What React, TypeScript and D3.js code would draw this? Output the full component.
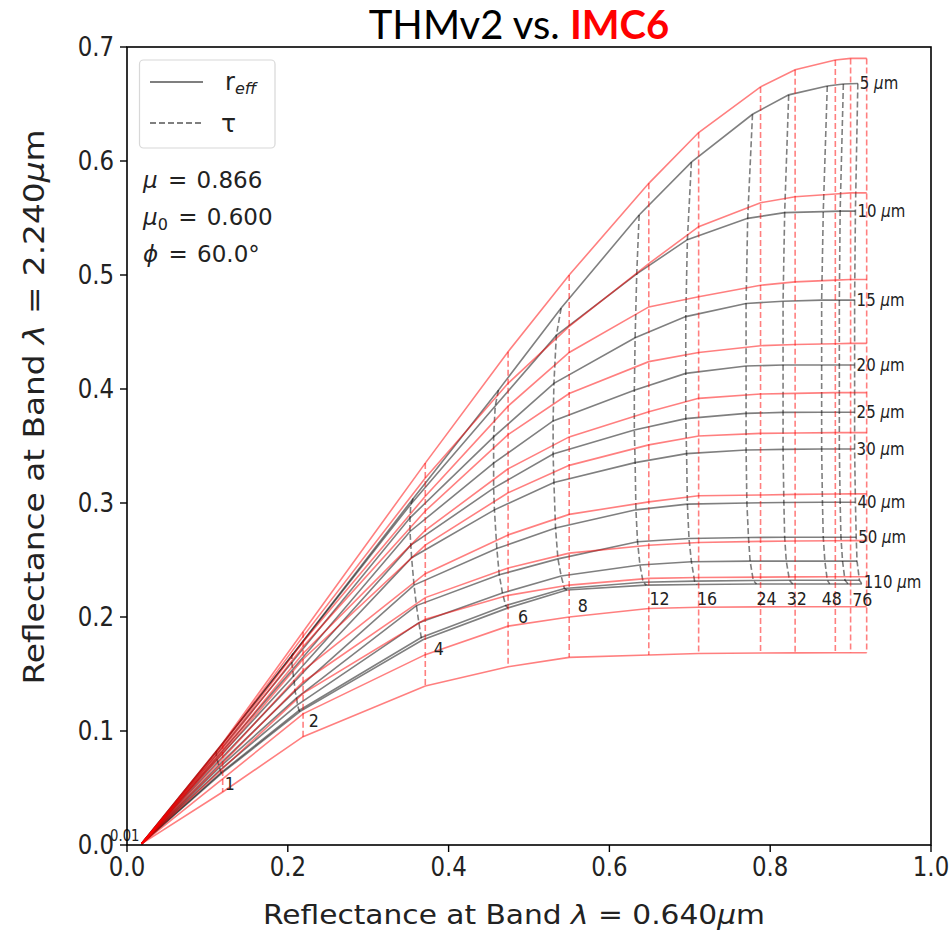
import React from 'react';
import * as d3 from 'd3';

const reffValues = [5, 10, 15, 20, 25, 30, 40, 50, 60, 80, 110];
const reffLabelShown = [true, true, true, true, true, true, true, true, false, false, true];
const tauValues = [0.01, 1, 2, 4, 6, 8, 12, 16, 24, 32, 48, 76, 100];
const tauLabels = ['0.01', '1', '2', '4', '6', '8', '12', '16', '24', '32', '48', '76', ''];

// THMv2 (gray) : x per (r_eff, tau)
const thmX = [
  [0.018, 0.112, 0.207, 0.356, 0.462, 0.540, 0.637, 0.702, 0.778, 0.823, 0.871, 0.891, 0.909],
  [0.018, 0.111, 0.205, 0.353, 0.458, 0.534, 0.634, 0.697, 0.772, 0.818, 0.866, 0.887, 0.906],
  [0.018, 0.111, 0.205, 0.352, 0.456, 0.531, 0.632, 0.695, 0.770, 0.816, 0.864, 0.886, 0.905],
  [0.018, 0.112, 0.206, 0.352, 0.456, 0.530, 0.631, 0.695, 0.770, 0.816, 0.864, 0.886, 0.905],
  [0.018, 0.112, 0.207, 0.353, 0.456, 0.530, 0.631, 0.695, 0.770, 0.816, 0.864, 0.886, 0.905],
  [0.018, 0.113, 0.208, 0.354, 0.457, 0.531, 0.632, 0.696, 0.770, 0.816, 0.864, 0.886, 0.905],
  [0.018, 0.114, 0.209, 0.357, 0.460, 0.533, 0.633, 0.697, 0.771, 0.817, 0.865, 0.887, 0.906],
  [0.018, 0.115, 0.211, 0.360, 0.463, 0.536, 0.635, 0.699, 0.773, 0.818, 0.866, 0.888, 0.907],
  [0.018, 0.116, 0.212, 0.363, 0.467, 0.540, 0.638, 0.702, 0.775, 0.820, 0.868, 0.890, 0.908],
  [0.018, 0.117, 0.214, 0.366, 0.471, 0.544, 0.642, 0.706, 0.779, 0.824, 0.871, 0.893, 0.911],
  [0.018, 0.118, 0.215, 0.368, 0.474, 0.547, 0.646, 0.709, 0.783, 0.828, 0.874, 0.897, 0.914],
];
const thmY = [
  [0.001, 0.0827, 0.168, 0.304, 0.399, 0.471, 0.5526, 0.599, 0.641, 0.658, 0.6658, 0.6675, 0.668],
  [0.001, 0.082, 0.166, 0.299, 0.385, 0.447, 0.501, 0.531, 0.5497, 0.5547, 0.5556, 0.556, 0.556],
  [0.001, 0.079, 0.160, 0.287, 0.358, 0.405, 0.445, 0.4635, 0.475, 0.477, 0.478, 0.478, 0.478],
  [0.001, 0.077, 0.154, 0.275, 0.335, 0.372, 0.399, 0.4137, 0.4202, 0.421, 0.421, 0.421, 0.421],
  [0.001, 0.075, 0.148, 0.263, 0.313, 0.343, 0.364, 0.374, 0.3786, 0.3795, 0.3796, 0.3796, 0.3796],
  [0.001, 0.073, 0.143, 0.252, 0.294, 0.318, 0.3354, 0.3433, 0.3465, 0.347, 0.3474, 0.3474, 0.3474],
  [0.001, 0.070, 0.135, 0.228, 0.260, 0.278, 0.294, 0.299, 0.300, 0.3005, 0.3006, 0.3006, 0.3006],
  [0.001, 0.068, 0.129, 0.210, 0.237, 0.251, 0.266, 0.2689, 0.2697, 0.270, 0.270, 0.270, 0.270],
  [0.001, 0.066, 0.123, 0.195, 0.221, 0.236, 0.2456, 0.2485, 0.249, 0.249, 0.249, 0.249, 0.249],
  [0.001, 0.0635, 0.118, 0.182, 0.210, 0.225, 0.2305, 0.2315, 0.232, 0.2322, 0.2323, 0.2323, 0.2323],
  [0.001, 0.063, 0.117, 0.180, 0.208, 0.2237, 0.228, 0.2285, 0.229, 0.229, 0.229, 0.229, 0.229],
];

// IMC6 (red) : x per tau, y per (r_eff, tau)
const imcX = [0.018, 0.119, 0.219, 0.371, 0.474, 0.550, 0.649, 0.711, 0.788, 0.831, 0.881, 0.900, 0.920];
const imcY = [
  [0.001, 0.0895, 0.187, 0.335, 0.4327, 0.500, 0.5804, 0.625, 0.665, 0.680, 0.6886, 0.690, 0.690],
  [0.001, 0.088, 0.183, 0.322, 0.405, 0.455, 0.510, 0.5424, 0.5634, 0.5686, 0.571, 0.572, 0.572],
  [0.001, 0.086, 0.178, 0.306, 0.385, 0.432, 0.472, 0.481, 0.491, 0.494, 0.4955, 0.496, 0.496],
  [0.001, 0.084, 0.174, 0.293, 0.360, 0.396, 0.424, 0.432, 0.438, 0.439, 0.4397, 0.440, 0.440],
  [0.001, 0.082, 0.168, 0.276, 0.330, 0.358, 0.380, 0.3918, 0.3956, 0.3962, 0.3968, 0.3968, 0.3968],
  [0.001, 0.080, 0.163, 0.263, 0.309, 0.333, 0.351, 0.3588, 0.3611, 0.3614, 0.3617, 0.3617, 0.3617],
  [0.001, 0.076, 0.153, 0.238, 0.272, 0.290, 0.301, 0.3064, 0.307, 0.3076, 0.3079, 0.308, 0.308],
  [0.001, 0.072, 0.143, 0.217, 0.243, 0.256, 0.263, 0.2654, 0.2663, 0.2667, 0.2669, 0.267, 0.267],
  [0.001, 0.067, 0.133, 0.198, 0.219, 0.228, 0.2339, 0.2346, 0.235, 0.2352, 0.2353, 0.2353, 0.2353],
  [0.001, 0.058, 0.115, 0.167, 0.192, 0.200, 0.2075, 0.2085, 0.2089, 0.209, 0.209, 0.209, 0.209],
  [0.001, 0.0465, 0.095, 0.1395, 0.1564, 0.1646, 0.1667, 0.168, 0.1684, 0.1685, 0.1686, 0.1686, 0.1686],
];

const xTicks = [0, 0.2, 0.4, 0.6, 0.8, 1.0];
const yTicks = [0, 0.1, 0.2, 0.3, 0.4, 0.5, 0.6, 0.7];
const annotations = [
  { sym: 'μ', sub: '', val: '0.866' },
  { sym: 'μ', sub: '0', val: '0.600' },
  { sym: 'ϕ', sub: '', val: '60.0°' },
];

// layout nudges for the tau labels (pixels, relative to the point they label)
const tauLabelDx = [-2, 3, 9, 11, 10, 11, 3, 0, 0, -6, -8, 4, 0];
const tauLabelDy = [-3, 17, 15, 15, 15, 22, 20, 20, 21, 21, 21, 22, 0];

const W = 951, H = 931;
const L = 127, R = 931, T = 47, B = 845;
const GRAY = 'rgba(0,0,0,0.5)';
const RED = 'rgba(255,0,0,0.5)';
const FONT = 'DejaVu Sans, sans-serif';
const SQ = 0.88;

export default function App() {
  const x = d3.scaleLinear().domain([0, 1]).range([L, R]);
  const y = d3.scaleLinear().domain([0, 0.7]).range([B, T]);
  const line = d3.line<[number, number]>().x(d => x(d[0])).y(d => y(d[1]));

  const grayR = thmY.map((row, i) => row.map((v, j) => [thmX[i][j], v] as [number, number]));
  const grayT = tauValues.map((_, j) => thmY.map((row, i) => [thmX[i][j], row[j]] as [number, number]));
  const redR = imcY.map(row => row.map((v, j) => [imcX[j], v] as [number, number]));
  const redT = tauValues.map((_, j) => imcY.map(row => [imcX[j], row[j]] as [number, number]));

  const last = thmY.length - 1;
  const nT = tauValues.length - 1;

  return (
    <svg width={W} height={H} style={{ position: 'absolute', left: 0, top: 0, background: '#fff' }} fontFamily={FONT}>
      <rect x={0} y={0} width={W} height={H} fill="#fff" />
      {/* title */}
      <text x={519} y={39} textAnchor="middle" fontFamily="Lato, Noto Sans, sans-serif" fontSize={40}>
        <tspan fill="#000">THMv2 vs. </tspan>
        <tspan fill="#ff0000" fontWeight="bold">IMC6</tspan>
      </text>

      <g fill="none" strokeWidth={1.6}>
        {grayT.map((pts, j) => j === 0 ? null : (
          <path key={'gt' + j} d={line(pts) || ''} stroke={GRAY} strokeDasharray="6,3" />
        ))}
        {grayR.map((pts, i) => (
          <path key={'gr' + i} d={line(pts) || ''} stroke={GRAY} />
        ))}
        {redT.map((pts, j) => j === 0 ? null : (
          <path key={'rt' + j} d={line(pts) || ''} stroke={RED} strokeDasharray="6,3" />
        ))}
        {redR.map((pts, i) => (
          <path key={'rr' + i} d={line(pts) || ''} stroke={RED} />
        ))}
      </g>

      {/* tau labels */}
      {tauLabels.map((lab, j) => {
        if (!lab) return null;
        const px = x(thmX[last][j]) + tauLabelDx[j];
        const py = y(thmY[last][j]) + tauLabelDy[j];
        return (
          <text key={'tl' + j} transform={`translate(${px},${py}) scale(${SQ},1)`}
            textAnchor={j === 0 ? 'end' : 'start'} fontSize={j === 0 ? 15 : 18} fill="#222">{lab}</text>
        );
      })}

      {/* r_eff labels */}
      {reffValues.map((r, i) => {
        if (!reffLabelShown[i]) return null;
        const px = x(thmX[i][nT]);
        const py = y(thmY[i][nT]) - (i === last ? 2 : 0);
        return (
          <text key={'rl' + i} transform={`translate(${px + 2},${py}) scale(${SQ},1)`} dy="0.35em" fontSize={17} fill="#222">
            {r} <tspan fontStyle="italic">μ</tspan>m
          </text>
        );
      })}

      {/* frame */}
      <rect x={L} y={T} width={R - L} height={B - T} fill="none" stroke="#000" strokeWidth={1.6} />

      {/* ticks */}
      {xTicks.map(t => (
        <g key={'xt' + t}>
          <line x1={x(t)} x2={x(t)} y1={B} y2={B + 7} stroke="#000" strokeWidth={1.4} />
          <text transform={`translate(${x(t)},${B + 31}) scale(${SQ},1)`} textAnchor="middle" fontSize={26} fill="#222">{t.toFixed(1)}</text>
        </g>
      ))}
      {yTicks.map(t => (
        <g key={'yt' + t}>
          <line x1={L - 7} x2={L} y1={y(t)} y2={y(t)} stroke="#000" strokeWidth={1.4} />
          <text transform={`translate(${L - 13},${y(t) + 9}) scale(${SQ},1)`} textAnchor="end" fontSize={26} fill="#222">{t.toFixed(1)}</text>
        </g>
      ))}

      {/* axis labels */}
      <text x={514} y={924} textAnchor="middle" fontSize={27} fill="#222" textLength={502} lengthAdjust="spacingAndGlyphs">
        Reflectance at Band <tspan fontStyle="italic">λ</tspan> = 0.640<tspan fontStyle="italic">μ</tspan>m
      </text>
      <text transform={`translate(44,407) rotate(-90)`} textAnchor="middle" fontSize={28} fill="#222" textLength={555} lengthAdjust="spacingAndGlyphs">
        Reflectance at Band <tspan fontStyle="italic">λ</tspan> = 2.240<tspan fontStyle="italic">μ</tspan>m
      </text>

      {/* legend */}
      <rect x={139.5} y={60} width={135.5} height={88} rx={4} fill="#fff" fillOpacity={0.8} stroke="#d8d8d8" strokeWidth={1.2} />
      <line x1={150} x2={203} y1={82} y2={82} stroke={GRAY} strokeWidth={1.8} />
      <line x1={150} x2={203} y1={123} y2={123} stroke={GRAY} strokeWidth={1.8} strokeDasharray="6,3" />
      <text x={225} y={90} fontSize={24} fill="#222">r<tspan fontSize={16} fontStyle="italic" dy={4}>eff</tspan></text>
      <text x={221} y={132} fontSize={25} fill="#222">τ</text>

      {/* annotations */}
      {annotations.map((a, k) => (
        <text key={'an' + k} x={143} y={188 + k * 37} fontSize={23} fill="#222">
          <tspan fontStyle="italic">{a.sym}</tspan>
          {a.sub ? <tspan fontSize={16} dy={5}>{a.sub}</tspan> : null}
          <tspan dy={a.sub ? -5 : 0} dx={3}> = </tspan>
          <tspan dx={2}>{a.val}</tspan>
        </text>
      ))}
    </svg>
  );
}
